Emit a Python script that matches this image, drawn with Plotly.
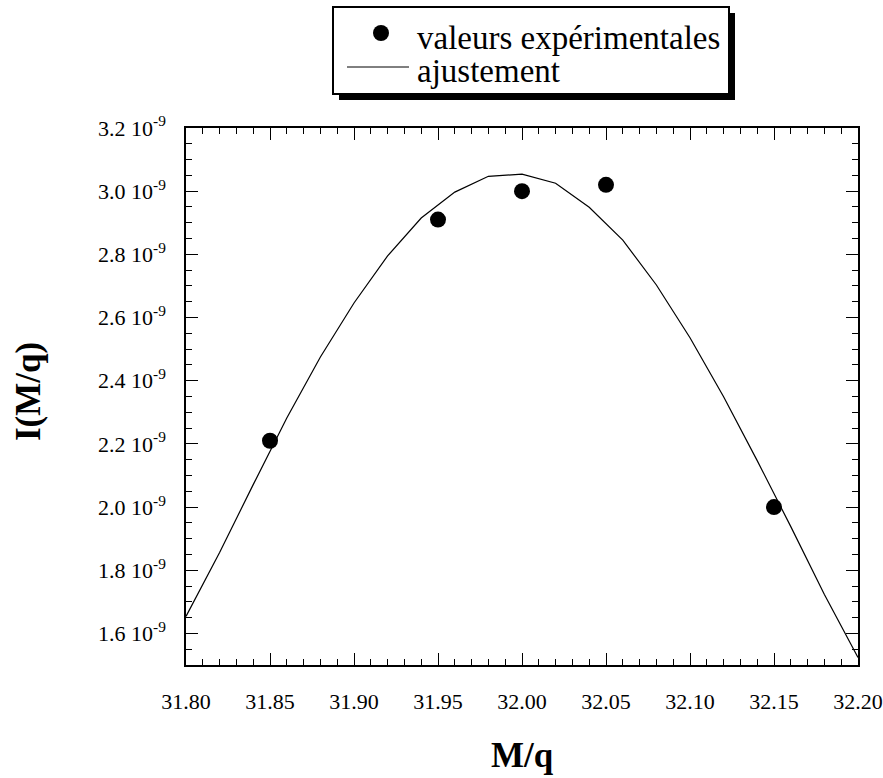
import plotly.graph_objects as go

# ---- data ----
exp_x = [31.85, 31.95, 32.00, 32.05, 32.15]
exp_y = [2.21e-9, 2.91e-9, 3.00e-9, 3.02e-9, 2.00e-9]

fit_x = [31.80, 31.82, 31.84, 31.86, 31.88, 31.90, 31.92, 31.94, 31.96, 31.98, 32.00,
         32.02, 32.04, 32.06, 32.08, 32.10, 32.12, 32.14, 32.16, 32.18, 32.20]
fit_y = [1.654e-9, 1.856e-9, 2.071e-9, 2.282e-9, 2.475e-9, 2.646e-9, 2.795e-9, 2.915e-9,
         2.997e-9, 3.047e-9, 3.054e-9, 3.025e-9, 2.949e-9, 2.845e-9, 2.703e-9, 2.536e-9,
         2.349e-9, 2.147e-9, 1.938e-9, 1.723e-9, 1.524e-9]

y_tickvals = [1.6e-9, 1.8e-9, 2.0e-9, 2.2e-9, 2.4e-9, 2.6e-9, 2.8e-9, 3.0e-9, 3.2e-9]
y_ticktext = ["1.6 10<sup>-9</sup>", "1.8 10<sup>-9</sup>", "2.0 10<sup>-9</sup>",
              "2.2 10<sup>-9</sup>", "2.4 10<sup>-9</sup>", "2.6 10<sup>-9</sup>",
              "2.8 10<sup>-9</sup>", "3.0 10<sup>-9</sup>", "3.2 10<sup>-9</sup>"]
x_tickvals = [31.80, 31.85, 31.90, 31.95, 32.00, 32.05, 32.10, 32.15, 32.20]
x_ticktext = ["31.80", "31.85", "31.90", "31.95", "32.00", "32.05", "32.10", "32.15", "32.20"]

legend_labels = ["valeurs expérimentales", "ajustement"]

FONT = "Liberation Serif, Times New Roman, serif"
W, H = 883, 778
L, R, T, B = 186, 25, 128, 113
PW, PH = W - L - R, H - T - B


def px(x):
    return (x - L) / PW


def py(y):
    return (H - B - y) / PH


fig = go.Figure()
fig.add_trace(go.Scatter(x=fit_x, y=fit_y, mode="lines",
                         line=dict(color="black", width=1.2), name=legend_labels[1],
                         showlegend=False))
fig.add_trace(go.Scatter(x=exp_x, y=exp_y, mode="markers",
                         marker=dict(color="black", size=16), name=legend_labels[0],
                         showlegend=False))

axis_common = dict(showline=True, linecolor="black", linewidth=1.5, mirror="ticks",
                   ticks="inside", ticklen=12, tickwidth=1.2, tickcolor="black",
                   showgrid=False, zeroline=False, automargin=False,
                   tickfont=dict(family=FONT, size=22, color="black"))

fig.update_xaxes(range=[31.8, 32.2], tickvals=x_tickvals, ticktext=x_ticktext,
                 minor=dict(ticks="inside", ticklen=6, dtick=0.01, tick0=31.8,
                            tickcolor="black", tickwidth=1),
                 ticklabelstandoff=16, **axis_common)
fig.update_yaxes(range=[1.5e-9, 3.2e-9], tickvals=y_tickvals, ticktext=y_ticktext,
                 minor=dict(ticks="inside", ticklen=6, dtick=0.05e-9, tick0=0,
                            tickcolor="black", tickwidth=1),
                 ticklabelstandoff=14, **axis_common)

# legend (drawn manually)
shapes = [
    dict(type="rect", xref="paper", yref="paper", x0=px(339), x1=px(735), y0=py(100), y1=py(13),
         fillcolor="black", line=dict(color="black", width=0)),
    dict(type="rect", xref="paper", yref="paper", x0=px(333), x1=px(729), y0=py(94), y1=py(7),
         fillcolor="white", line=dict(color="black", width=2)),
    dict(type="circle", xref="paper", yref="paper", x0=px(373), x1=px(389), y0=py(41), y1=py(25),
         fillcolor="black", line=dict(color="black", width=0)),
    dict(type="line", xref="paper", yref="paper", x0=px(347), x1=px(409), y0=py(67), y1=py(67),
         line=dict(color="black", width=1)),
]

annotations = [
    dict(text=legend_labels[0], xref="paper", yref="paper", x=px(415), y=py(38),
         xanchor="left", yanchor="middle", showarrow=False,
         font=dict(family=FONT, size=33, color="black")),
    dict(text=legend_labels[1], xref="paper", yref="paper", x=px(415), y=py(71),
         xanchor="left", yanchor="middle", showarrow=False,
         font=dict(family=FONT, size=33, color="black")),
    dict(text="<b>M/q</b>", xref="paper", yref="paper", x=px(522), y=py(755),
         xanchor="center", yanchor="middle", showarrow=False,
         font=dict(family=FONT, size=35, color="black")),
    dict(text="<b>I(M/q)</b>", xref="paper", yref="paper", x=px(28), y=py(392),
         xanchor="center", yanchor="middle", showarrow=False, textangle=-90,
         font=dict(family=FONT, size=35, color="black")),
]

fig.update_layout(width=W, height=H, autosize=False, margin=dict(l=L, r=R, t=T, b=B),
                  plot_bgcolor="white", paper_bgcolor="white",
                  font=dict(family=FONT, color="black"),
                  shapes=shapes, annotations=annotations, showlegend=False)

fig.write_html(
    "out.html",
    config={"responsive": False, "displayModeBar": False},
    post_script="document.body.style.margin='0';document.body.style.padding='0';"
                "document.body.style.overflow='hidden';"
                "document.documentElement.style.overflow='hidden';",
)
